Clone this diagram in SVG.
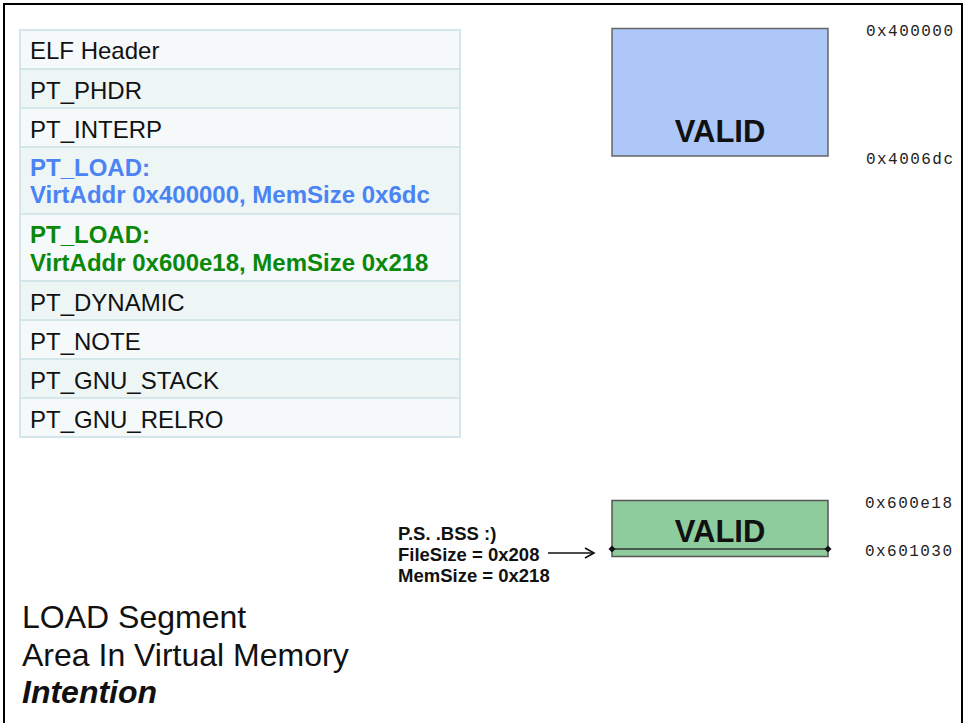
<svg xmlns="http://www.w3.org/2000/svg" width="964" height="723" viewBox="0 0 964 723">
<defs>
<style>
.t{font-family:"Liberation Sans",Arial,sans-serif;font-size:24px;fill:#111}
.b{font-weight:bold}
.blue{fill:#4a84f4}
.green{fill:#0a880a}
.row{stroke:#d4e6ea;stroke-width:2}
.ra{fill:#f5f9fa}
.rb{fill:#eef5f5}
.mono{font-family:"Liberation Mono","Courier New",monospace;font-size:16px;fill:#222}
.valid{font-family:"Liberation Sans",Arial,sans-serif;font-size:31px;font-weight:bold;fill:#111;text-anchor:middle}
.note{font-family:"Liberation Sans",Arial,sans-serif;font-size:18.5px;font-weight:bold;fill:#111}
.cap{font-family:"Liberation Sans",Arial,sans-serif;font-size:32px;fill:#111}
</style>
<marker id="arr" markerWidth="12" markerHeight="12" refX="10" refY="6" orient="auto" markerUnits="userSpaceOnUse">
<path d="M1,1 L10,6 L1,11" fill="none" stroke="#111" stroke-width="1.6"/>
</marker>
</defs>
<rect width="964" height="723" fill="#fff"/>
<rect x="4" y="4" width="958" height="740" fill="none" stroke="#000" stroke-width="2"/>

<g id="table">
<g id="row-elf"><rect class="row ra" x="20" y="30" width="440" height="39"/><text class="t" x="30" y="59">ELF Header</text></g>
<g id="row-phdr"><rect class="row rb" x="20" y="69" width="440" height="39"/><text class="t" x="30" y="98.5">PT_PHDR</text></g>
<g id="row-interp"><rect class="row ra" x="20" y="108" width="440" height="39"/><text class="t" x="30" y="137.5">PT_INTERP</text></g>
<g id="row-load1"><rect class="row rb" x="20" y="147" width="440" height="67"/><text class="t b blue" x="30" y="175.5">PT_LOAD:</text><text class="t b blue" x="30" y="203">VirtAddr 0x400000, MemSize 0x6dc</text></g>
<g id="row-load2"><rect class="row ra" x="20" y="214" width="440" height="67"/><text class="t b green" x="30" y="243">PT_LOAD:</text><text class="t b green" x="30" y="270.5">VirtAddr 0x600e18, MemSize 0x218</text></g>
<g id="row-dynamic"><rect class="row rb" x="20" y="281" width="440" height="39"/><text class="t" x="30" y="310.5">PT_DYNAMIC</text></g>
<g id="row-note"><rect class="row ra" x="20" y="320" width="440" height="39"/><text class="t" x="30" y="349.5">PT_NOTE</text></g>
<g id="row-stack"><rect class="row rb" x="20" y="359" width="440" height="39"/><text class="t" x="30" y="388.5">PT_GNU_STACK</text></g>
<g id="row-relro"><rect class="row ra" x="20" y="398" width="440" height="39"/><text class="t" x="30" y="427.5">PT_GNU_RELRO</text></g>
</g>

<g id="seg1">
<rect x="612" y="28.5" width="216" height="127.5" fill="#adc8f8" stroke="#666" stroke-width="1.5"/>
<text class="valid" x="720" y="142">VALID</text>
<text class="mono" x="866" y="35.5" textLength="87" lengthAdjust="spacing">0x400000</text>
<text class="mono" x="866" y="163.5" textLength="87" lengthAdjust="spacing">0x4006dc</text>
</g>

<g id="seg2">
<rect x="612" y="500.5" width="216" height="56" fill="#8ecc9e" stroke="#555" stroke-width="1.5"/>
<line x1="612" y1="549" x2="828" y2="549" stroke="#333" stroke-width="1.5"/>
<path d="M612,545.5 L615.5,549 L612,552.5 L608.5,549 Z" fill="#111"/>
<path d="M828,545.5 L831.5,549 L828,552.5 L824.5,549 Z" fill="#111"/>
<text class="valid" x="720" y="541.5">VALID</text>
<text class="mono" x="865" y="508" textLength="87" lengthAdjust="spacing">0x600e18</text>
<text class="mono" x="865" y="556" textLength="87" lengthAdjust="spacing">0x601030</text>
</g>

<g id="note">
<text class="note" x="398" y="540">P.S. .BSS :)</text>
<text class="note" x="398" y="560.5">FileSize = 0x208</text>
<text class="note" x="398" y="582">MemSize = 0x218</text>
</g>

<g id="connectors">
<line x1="548" y1="553" x2="594" y2="553" stroke="#111" stroke-width="1.3" marker-end="url(#arr)"/>
</g>

<g id="caption">
<text class="cap" x="22" y="628">LOAD Segment</text>
<text class="cap" x="22" y="666">Area In Virtual Memory</text>
<text class="cap" x="22" y="703" font-weight="bold" font-style="italic">Intention</text>
</g>
</svg>
